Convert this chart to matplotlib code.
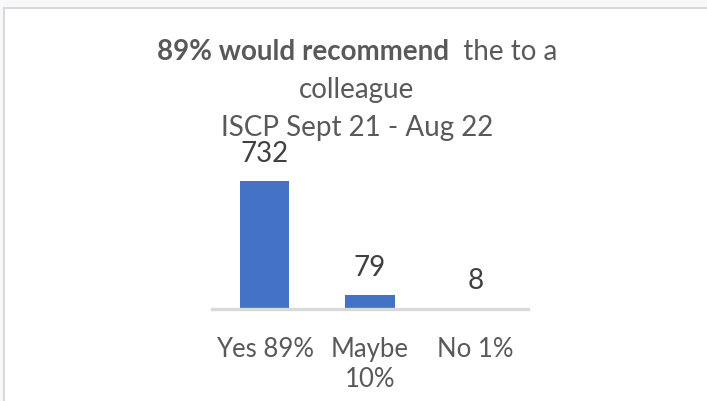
import matplotlib
matplotlib.use("Agg")
import matplotlib.pyplot as plt
from matplotlib.patches import Rectangle

categories = ["Yes 89%", "Maybe\n10%", "No 1%"]
counts = [732, 79, 8]
title_bold = "89% would recommend"
title_rest = "  the to a"
title_lines = ["colleague", "ISCP Sept 21 - Aug 22"]

plt.rcParams['font.family'] = ['Lato', 'DejaVu Sans']
fs = 20

fig = plt.figure(figsize=(7.07, 4.01), dpi=100)
fig.patch.set_facecolor('#f8f8fa')
# chart frame
fig.patches.append(Rectangle((4 / 707, -0.01), 1.0, 1 - 8 / 401 + 0.01, transform=fig.transFigure,
                             facecolor='white', edgecolor='#d9d9d9', linewidth=1.5, zorder=-1))

ax = fig.add_axes([212 / 707, 1 - 309 / 401, 316 / 707, 140 / 401])
ax.set_zorder(2)
ax.patch.set_alpha(0)
x = range(len(counts))
bars = ax.bar(x, counts, width=0.47, color='#4472C4', zorder=2)
ax.set_xlim(-0.5, 2.5)
ax.set_ylim(0, 800)
for b, v in zip(bars, counts):
    ax.annotate(str(v), (b.get_x() + b.get_width() / 2, v), xytext=(0, 10), textcoords='offset points',
                ha='center', va='bottom', fontsize=fs, color='#404040')
ax.set_xticks(list(x))
ax.set_xticklabels(categories, fontsize=18.5, color='#595959', linespacing=1.25)
ax.tick_params(axis='x', length=0, pad=20)
ax.set_yticks([])
for s in ['top', 'right', 'left']:
    ax.spines[s].set_visible(False)
ax.spines['bottom'].set_color('#d9d9d9')
ax.spines['bottom'].set_linewidth(2.4)
ax.spines['bottom'].set_zorder(3)

# title: bold part + normal part on the first line
cx = 357 / 707
t1 = fig.text(0, 1 - 52 / 401, title_bold, fontsize=fs, fontweight='bold', color='#595959', va='center')
t2 = fig.text(0, 1 - 52 / 401, title_rest, fontsize=fs, color='#595959', va='center')
r = fig.canvas.get_renderer()
w1 = t1.get_window_extent(r).width / 707
w2 = t2.get_window_extent(r).width / 707
t1.set_x(cx - (w1 + w2) / 2)
t2.set_x(cx - (w1 + w2) / 2 + w1)
fig.text(cx, 1 - 90 / 401, title_lines[0], fontsize=fs, color='#595959', ha='center', va='center')
fig.text(cx, 1 - 128 / 401, title_lines[1], fontsize=fs, color='#595959', ha='center', va='center')

fig.savefig("out.png", dpi=100, facecolor=fig.get_facecolor())
